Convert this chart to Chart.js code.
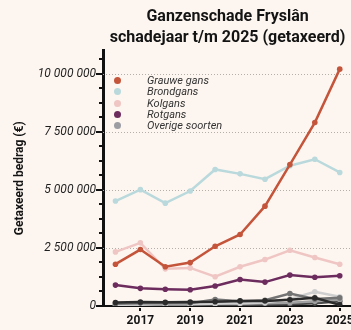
<!DOCTYPE html>
<html lang="nl">
<head>
<meta charset="utf-8">
<title>Ganzenschade Fryslân</title>
<script src="https://cdn.jsdelivr.net/npm/chart.js@4/dist/chart.umd.min.js"></script>
<style>
  html, body { margin: 0; padding: 0; background: #fdf6f0; overflow: hidden; }
  .wrap { position: relative; width: 362px; height: 330px; }
  #legenda { position: absolute; left: 114px; top: 75px; font: italic 11px Roboto, sans-serif; color: #333; }
  .leg-rij { display: flex; align-items: center; height: 11.3px; white-space: nowrap; }
  .leg-stip { width: 7px; height: 7px; border-radius: 50%; margin-right: 26px; flex: none; }
</style>
</head>
<body>
<div class="wrap">
  <canvas id="grafiek"></canvas>
  <div id="legenda"></div>
</div>
<script>
// ── Gegevens (getaxeerde schade in euro per schadejaar) ──
const jaren = ['2016', '2017', '2018', '2019', '2020', '2021', '2022', '2023', '2024', '2025'];

const grauweGans = [1800000, 2430000, 1690000, 1870000, 2570000, 3080000, 4300000, 6090000, 7900000, 10200000];
const brondgans  = [4520000, 5010000, 4430000, 4950000, 5880000, 5690000, 5460000, 6040000, 6320000, 5750000];
const kolgans    = [2330000, 2720000, 1600000, 1640000, 1260000, 1690000, 2000000, 2400000, 2090000, 1800000];
const rotgans    = [900000, 760000, 720000, 700000, 860000, 1140000, 1030000, 1330000, 1240000, 1300000];

// overige soorten, elk een eigen grijstint
const overigZwart  = [150000, 170000, 160000, 170000, 180000, 220000, 220000, 270000, 350000, 50000];
const overigGrijs  = [100000, 120000, 120000, 120000, 280000, 200000, 250000, 540000, 300000, 350000];
const overigLicht  = [50000, 60000, 70000, 70000, 100000, 120000, 150000, 300000, 610000, 400000];
const overigZilver = [130000, 50000, 140000, 100000, 160000, 100000, 120000, 140000, 200000, 280000];
const overigDonker = [30000, 40000, 30000, 30000, 40000, 50000, 60000, 80000, 120000, 200000];

// y-as: labels bij de grote stappen, streepjes bij de kleine
const yTicks = [0, 2500000, 5000000, 7500000, 10000000];
const yMax = 11000000;
const grooteStap = 2500000;
const kleineStap = 625000;

// ── Reeksen ──────────────────────────────────────────
const reeksen = [
    { label: 'Grauwe gans', data: grauweGans, kleur: '#c4553b', legenda: true },
    { label: 'Brondgans', data: brondgans, kleur: '#bad9dc', legenda: true },
    { label: 'Kolgans', data: kolgans, kleur: '#efc6c3', legenda: true },
    { label: 'Rotgans', data: rotgans, kleur: '#6d2c5e', legenda: true },
    { label: 'Overige soorten', data: overigZwart, kleur: '#2b2b2b', legendaKleur: '#9c9ca3', legenda: true },
    { label: 'Overige soorten', data: overigGrijs, kleur: '#747474' },
    { label: 'Overige soorten', data: overigLicht, kleur: '#cfcfcf' },
    { label: 'Overige soorten', data: overigZilver, kleur: '#a0a0a0' },
    { label: 'Overige soorten', data: overigDonker, kleur: '#4a4a4a' },
];

const euro = v => String(v).replace(/\B(?=(\d{3})+(?!\d))/g, ' ');

// ── Legenda ──────────────────────────────────────────
document.getElementById('legenda').innerHTML = reeksen.filter(r => r.legenda).map(r => `
  <div class="leg-rij">
    <div class="leg-stip" style="background:${r.legendaKleur || r.kleur};"></div>
    <span>${r.label}</span>
  </div>
`).join('');

// ── Rasterlijnen en streepjes langs de assen ─────────
const assen = {
    id: 'assen',
    beforeDatasetsDraw(chart) {
        const { ctx, chartArea: ca, scales: { y } } = chart;
        ctx.save();
        ctx.strokeStyle = '#b5afaa';
        ctx.lineWidth = 1;
        ctx.setLineDash([1, 2]);
        yTicks.forEach(v => {
            if (v === 0) return;
            const py = Math.round(y.getPixelForValue(v)) + 0.5;
            ctx.beginPath(); ctx.moveTo(ca.left, py); ctx.lineTo(ca.right, py); ctx.stroke();
        });
        ctx.restore();
    },
    afterDraw(chart) {
        const { ctx, chartArea: ca, scales: { x, y } } = chart;
        ctx.save();
        ctx.strokeStyle = '#111';
        ctx.lineWidth = 2;
        for (let v = 0; v <= yMax; v += kleineStap) {
            const py = Math.round(y.getPixelForValue(v));
            const len = v % grooteStap === 0 ? 6 : 3;
            ctx.beginPath(); ctx.moveTo(ca.left - len - 1, py); ctx.lineTo(ca.left, py); ctx.stroke();
        }
        jaren.forEach((j, i) => {
            if (+j % 2 === 0) return;
            const px = Math.round(x.getPixelForValue(i));
            ctx.beginPath(); ctx.moveTo(px, ca.bottom + 2); ctx.lineTo(px, ca.bottom + 5); ctx.stroke();
        });
        ctx.restore();
    }
};

// ── Grafiek ──────────────────────────────────────────
new Chart(document.getElementById('grafiek'), {
    type: 'line',
    data: {
        labels: jaren,
        datasets: reeksen.map(r => ({
            label: r.label, data: r.data,
            borderColor: r.kleur, backgroundColor: r.kleur,
            borderWidth: 2.5, pointRadius: 2.8, pointHoverRadius: 2.8,
            pointBorderWidth: 0, tension: 0, fill: false
        }))
    },
    options: {
        responsive: true, maintainAspectRatio: false, animation: false,
        layout: { padding: { left: 0, right: 3, top: 0, bottom: 0 } },
        plugins: {
            legend: { display: false },
            tooltip: { enabled: false },
            title: {
                display: true, fullSize: false,
                text: ['Ganzenschade Fryslân', 'schadejaar t/m 2025 (getaxeerd)'],
                color: '#141414',
                font: { family: 'Roboto', size: 16, weight: 'bold', lineHeight: 1.33 },
                padding: { top: 6, bottom: 2 }
            }
        },
        scales: {
            x: {
                offset: true,
                grid: { display: false, drawTicks: false },
                border: { display: true, color: '#111', width: 2 },
                ticks: {
                    autoSkip: false, maxRotation: 0, padding: 8, color: '#141414',
                    font: { family: 'Roboto', size: 12, weight: 'bold' },
                    callback: (v, i) => (+jaren[i] % 2 ? jaren[i] : '')
                },
                afterFit: s => { s.height = 24; }
            },
            y: {
                min: 0, max: yMax,
                grid: { display: false, drawTicks: false },
                border: { display: true, color: '#111', width: 3 },
                ticks: {
                    autoSkip: false, padding: 7, color: '#1e1e1e',
                    font: { family: 'Roboto', size: 12, style: 'italic' },
                    callback: v => euro(v)
                },
                afterBuildTicks: s => { s.ticks = yTicks.map(value => ({ value })); },
                title: {
                    display: true, text: 'Getaxeerd bedrag (€)', color: '#141414',
                    font: { family: 'Roboto', size: 12, weight: 'bold' },
                    padding: { top: 13, bottom: 0 }
                },
                afterFit: s => { s.width = 103; }
            }
        }
    },
    plugins: [assen]
});
</script>
</body>
</html>
